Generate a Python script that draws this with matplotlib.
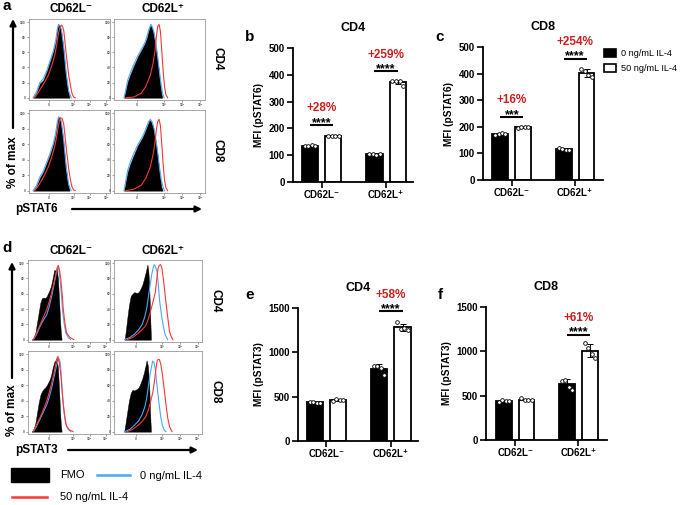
import numpy as np
import matplotlib
matplotlib.use('Agg')
import matplotlib.pyplot as plt
from matplotlib.patches import Patch, Rectangle

plt.rcParams['font.family'] = ['Liberation Sans', 'DejaVu Sans']
plt.rcParams['font.weight'] = 'bold'
plt.rcParams['axes.labelweight'] = 'bold'

# ---------------- data ----------------
groups = ['CD62L\u207b', 'CD62L\u207a']
legend_labels = ['0 ng/mL IL-4', '50 ng/mL IL-4']

# MFI dots (4 donors) per group
b_ctrl_pts = [[133, 136, 137, 135], [106, 103, 101, 104]]
b_il4_pts = [[170, 172, 173, 171], [378, 377, 377, 360]]
c_ctrl_pts = [[170, 173, 176, 172], [121, 116, 114, 113]]
c_il4_pts = [[196, 200, 200, 199], [418, 410, 393, 388]]
e_ctrl_pts = [[440, 435, 430, 432], [850, 845, 820, 740]]
e_il4_pts = [[455, 470, 462, 460], [1345, 1265, 1270, 1250]]
f_ctrl_pts = [[430, 450, 440, 445], [670, 680, 600, 560]]
f_il4_pts = [[470, 455, 450, 450], [1090, 1040, 975, 930]]

# significance marks: (group, line height, stars, percent label)
b_sig = [(0, 213, '****', '+28%'), (1, 413, '****', '+259%')]
c_sig = [(0, 237, '***', '+16%'), (1, 456, '****', '+254%')]
e_sig = [(1, 1463, '****', '+58%')]
f_sig = [(1, 1189, '****', '+61%')]

# histogram curves (x = fraction of log axis, y = % of max)
a4n_fmo = [(0.05, 0), (0.09, 6), (0.135, 19), (0.175, 23), (0.22, 35), (0.26, 48), (0.30, 61), (0.33, 74),
           (0.35, 90), (0.36, 97), (0.38, 94), (0.395, 90), (0.42, 70), (0.45, 35), (0.48, 10), (0.50, 0)]
a4n_blue = [(0.05, 0), (0.09, 7), (0.135, 20), (0.175, 25), (0.22, 36), (0.26, 49), (0.30, 62), (0.33, 76),
            (0.35, 91), (0.365, 97), (0.385, 95), (0.40, 90), (0.43, 66), (0.46, 32), (0.49, 9), (0.52, 0)]
a4n_red = [(0.07, 0), (0.12, 8), (0.16, 15), (0.20, 22), (0.24, 30), (0.28, 42), (0.32, 57), (0.345, 72),
           (0.36, 83), (0.38, 92), (0.40, 96), (0.415, 94), (0.43, 88), (0.46, 57), (0.49, 30), (0.51, 17),
           (0.53, 6), (0.55, 1), (0.57, 0)]

a4p_fmo = [(0.11, 0), (0.13, 10), (0.15, 21), (0.18, 31), (0.21, 40), (0.26, 54), (0.31, 65), (0.34, 72),
           (0.36, 79), (0.38, 88), (0.40, 96), (0.415, 93), (0.43, 88), (0.45, 75), (0.47, 58), (0.49, 38),
           (0.505, 20), (0.52, 6), (0.53, 0)]
a4p_blue = [(0.11, 0), (0.13, 11), (0.15, 23), (0.18, 33), (0.21, 42), (0.26, 55), (0.31, 66), (0.34, 73),
            (0.36, 80), (0.38, 89), (0.405, 97), (0.42, 94), (0.44, 86), (0.46, 72), (0.48, 54), (0.50, 34),
            (0.52, 16), (0.535, 5), (0.55, 0)]
a4p_red = [(0.13, 0), (0.22, 1), (0.30, 6), (0.35, 15), (0.40, 30), (0.43, 46), (0.45, 61), (0.465, 80),
           (0.48, 94), (0.495, 97), (0.51, 88), (0.525, 62), (0.54, 35), (0.555, 15), (0.57, 4), (0.59, 0)]

a8n_fmo = [(0.05, 0), (0.09, 5), (0.135, 17), (0.175, 24), (0.22, 36), (0.26, 47), (0.30, 60), (0.33, 73),
           (0.35, 88), (0.36, 96), (0.375, 93), (0.39, 89), (0.42, 68), (0.45, 34), (0.48, 9), (0.50, 0)]
a8n_blue = [(0.05, 0), (0.09, 6), (0.135, 18), (0.175, 25), (0.22, 37), (0.26, 48), (0.30, 61), (0.33, 75),
            (0.35, 89), (0.365, 95), (0.385, 94), (0.40, 89), (0.43, 64), (0.46, 30), (0.49, 8), (0.52, 0)]
a8n_red = [(0.07, 0), (0.12, 7), (0.16, 14), (0.20, 22), (0.24, 31), (0.28, 43), (0.32, 58), (0.345, 72),
           (0.36, 82), (0.375, 90), (0.39, 94), (0.41, 93), (0.43, 85), (0.46, 55), (0.49, 28), (0.51, 15),
           (0.53, 5), (0.55, 1), (0.57, 0)]

a8p_fmo = [(0.11, 0), (0.13, 12), (0.15, 24), (0.18, 35), (0.21, 44), (0.26, 58), (0.31, 68), (0.34, 76),
           (0.36, 82), (0.38, 88), (0.39, 91), (0.41, 89), (0.43, 82), (0.45, 70), (0.47, 54), (0.49, 34),
           (0.505, 18), (0.52, 5), (0.535, 0)]
a8p_blue = [(0.11, 0), (0.13, 13), (0.15, 26), (0.18, 37), (0.21, 46), (0.26, 59), (0.31, 69), (0.34, 77),
            (0.36, 83), (0.38, 89), (0.40, 92), (0.42, 88), (0.44, 80), (0.46, 66), (0.48, 50), (0.50, 30),
            (0.52, 14), (0.54, 4), (0.555, 0)]
a8p_red = [(0.13, 0), (0.22, 2), (0.30, 7), (0.35, 16), (0.40, 31), (0.43, 47), (0.45, 62), (0.465, 78),
           (0.48, 89), (0.495, 92), (0.51, 84), (0.525, 60), (0.54, 34), (0.555, 14), (0.57, 4), (0.59, 0)]

d4n_fmo = [(0.045, 0), (0.07, 3), (0.09, 9), (0.11, 22), (0.13, 35), (0.15, 48), (0.17, 54), (0.19, 55),
           (0.21, 54), (0.23, 57), (0.26, 64), (0.28, 70), (0.30, 80), (0.32, 91), (0.34, 90), (0.35, 93),
           (0.365, 80), (0.38, 50), (0.39, 27), (0.40, 10), (0.41, 0)]
d4n_blue = [(0.065, 0), (0.10, 6), (0.15, 18), (0.19, 26), (0.23, 33), (0.26, 44), (0.29, 57), (0.31, 68),
            (0.33, 79), (0.35, 90), (0.36, 95), (0.375, 92), (0.39, 79), (0.41, 55), (0.42, 40), (0.44, 22),
            (0.46, 9), (0.49, 3), (0.52, 0)]
d4n_red = [(0.065, 0), (0.10, 8), (0.15, 20), (0.19, 30), (0.23, 40), (0.26, 50), (0.29, 62), (0.32, 76),
           (0.34, 86), (0.36, 95), (0.37, 97), (0.385, 90), (0.40, 79), (0.42, 55), (0.43, 40), (0.45, 22),
           (0.47, 9), (0.51, 3), (0.56, 0)]

d4p_fmo = [(0.12, 0), (0.135, 12), (0.15, 27), (0.17, 45), (0.19, 57), (0.21, 60), (0.23, 62), (0.26, 61),
           (0.28, 62), (0.30, 66), (0.32, 71), (0.34, 79), (0.36, 88), (0.38, 98), (0.39, 90), (0.40, 71),
           (0.41, 35), (0.42, 0)]
d4p_blue = [(0.12, 0), (0.18, 3), (0.23, 7), (0.28, 13), (0.32, 20), (0.35, 30), (0.37, 40), (0.39, 55),
            (0.41, 71), (0.43, 86), (0.45, 96), (0.46, 98), (0.475, 94), (0.49, 88), (0.505, 70), (0.52, 49),
            (0.54, 32), (0.56, 18), (0.58, 7), (0.61, 0)]
d4p_red = [(0.15, 0), (0.21, 3), (0.26, 7), (0.31, 12), (0.36, 18), (0.39, 27), (0.41, 35), (0.44, 48),
           (0.47, 62), (0.485, 78), (0.50, 93), (0.515, 97), (0.53, 98), (0.545, 93), (0.56, 80), (0.575, 65),
           (0.59, 49), (0.61, 30), (0.63, 11), (0.65, 4), (0.67, 0)]

d8n_fmo = [(0.045, 0), (0.07, 4), (0.09, 11), (0.11, 24), (0.13, 37), (0.15, 47), (0.17, 52), (0.19, 55),
           (0.21, 57), (0.23, 60), (0.26, 66), (0.28, 72), (0.30, 82), (0.32, 90), (0.335, 92), (0.35, 95),
           (0.365, 82), (0.38, 52), (0.39, 28), (0.40, 10), (0.41, 0)]
d8n_blue = [(0.065, 0), (0.10, 6), (0.15, 17), (0.19, 26), (0.23, 35), (0.26, 45), (0.29, 57), (0.31, 67),
            (0.33, 77), (0.35, 86), (0.37, 92), (0.38, 94), (0.395, 88), (0.41, 65), (0.42, 48), (0.44, 25),
            (0.46, 10), (0.49, 3), (0.52, 0)]
d8n_red = [(0.065, 0), (0.10, 8), (0.15, 19), (0.19, 29), (0.23, 40), (0.26, 51), (0.29, 63), (0.32, 77),
           (0.34, 88), (0.355, 95), (0.365, 97), (0.38, 90), (0.40, 74), (0.42, 48), (0.43, 35), (0.45, 18),
           (0.47, 7), (0.51, 2), (0.55, 0)]

d8p_fmo = [(0.115, 0), (0.13, 10), (0.15, 25), (0.17, 40), (0.19, 50), (0.21, 54), (0.23, 53), (0.26, 55),
           (0.28, 57), (0.30, 62), (0.32, 68), (0.34, 76), (0.36, 86), (0.37, 92), (0.385, 85), (0.40, 60),
           (0.41, 25), (0.42, 0)]
d8p_blue = [(0.12, 0), (0.18, 3), (0.23, 8), (0.28, 14), (0.32, 22), (0.35, 32), (0.37, 42), (0.39, 58),
            (0.41, 74), (0.43, 86), (0.44, 91), (0.455, 89), (0.47, 80), (0.49, 58), (0.51, 38), (0.53, 20),
            (0.55, 8), (0.57, 2), (0.59, 0)]
d8p_red = [(0.15, 0), (0.21, 3), (0.26, 7), (0.31, 12), (0.36, 19), (0.39, 28), (0.41, 36), (0.44, 50),
           (0.46, 65), (0.475, 80), (0.49, 91), (0.50, 93), (0.515, 93), (0.53, 88), (0.55, 74), (0.57, 55),
           (0.59, 36), (0.61, 18), (0.63, 7), (0.65, 2), (0.66, 0)]

hist_xticks = [0.25, 0.55, 0.75, 0.95]
hist_xticklabels = ['0', '10\u00b3', '10\u2074', '10\u2075']
hist_yticks = [0, 20, 40, 60, 80, 100]

# ---------------- figure ----------------
W, H = 685, 505
fig = plt.figure(figsize=(W / 100, H / 100), dpi=100)

RED_TXT = '#cc1f1f'
BLUE = '#4aa8f5'
RED = '#ff3535'


def px_axes(l, t, r, b):
    return fig.add_axes([l / W, 1 - b / H, (r - l) / W, (b - t) / H])


# overlay for figure-level text and arrows, in pixel coords
ov = fig.add_axes([0, 0, 1, 1])
ov.set_xlim(0, W)
ov.set_ylim(H, 0)
ov.axis('off')


def histo(box, fmo, blue, red):
    ax = px_axes(*box)
    fx, fy = zip(*fmo)
    ax.fill_between(fx, fy, 0, color='black', lw=0.3, zorder=2)
    bx, by = zip(*blue)
    ax.plot(bx, by, color=BLUE, lw=0.8, zorder=3)
    rx, ry = zip(*red)
    ax.plot(rx, ry, color=RED, lw=0.8, zorder=4)
    ax.set_xlim(0, 1)
    ax.set_ylim(-3, 104)
    ax.set_xticks(hist_xticks)
    ax.set_xticklabels(hist_xticklabels)
    ax.set_yticks(hist_yticks)
    ax.tick_params(length=1.5, width=0.4, labelsize=2.3, pad=0.8, colors='#555555')
    for s in ax.spines.values():
        s.set_color('#999999')
        s.set_linewidth(0.6)
    return ax


histo((29, 19, 110, 100), a4n_fmo, a4n_blue, a4n_red)
histo((114, 19, 205, 100), a4p_fmo, a4p_blue, a4p_red)
histo((29, 110, 110, 193), a8n_fmo, a8n_blue, a8n_red)
histo((114, 110, 205, 193), a8p_fmo, a8p_blue, a8p_red)

histo((28, 260, 110, 342), d4n_fmo, d4n_blue, d4n_red)
histo((114, 260, 202, 342), d4p_fmo, d4p_blue, d4p_red)
histo((28, 351, 110, 434), d8n_fmo, d8n_blue, d8n_red)
histo((114, 351, 202, 434), d8p_fmo, d8p_blue, d8p_red)

# headers, side labels, arrows
for hy in [9, 251]:
    ov.text(71, hy, groups[0], ha='center', va='center', fontsize=8.5)
    ov.text(163, hy, groups[1], ha='center', va='center', fontsize=8.5)
ov.text(218, 59, 'CD4', rotation=-90, ha='center', va='center', fontsize=8.5)
ov.text(218, 151, 'CD8', rotation=-90, ha='center', va='center', fontsize=8.5)
ov.text(216, 301, 'CD4', rotation=-90, ha='center', va='center', fontsize=8.5)
ov.text(216, 392, 'CD8', rotation=-90, ha='center', va='center', fontsize=8.5)

arrow = dict(arrowstyle='-|>', lw=1.6, color='black', mutation_scale=9, shrinkA=0, shrinkB=0)
ov.annotate('', xy=(13, 19), xytext=(13, 128), arrowprops=arrow)
ov.text(13, 162, '% of max', rotation=90, ha='center', va='center', fontsize=8.5)
ov.text(15, 209, 'pSTAT6', ha='left', va='center', fontsize=8.5)
ov.annotate('', xy=(202, 209), xytext=(72, 209), arrowprops=arrow)

ov.annotate('', xy=(12, 262), xytext=(12, 378), arrowprops=arrow)
ov.text(12, 410, '% of max', rotation=90, ha='center', va='center', fontsize=8.5)
ov.text(15, 450, 'pSTAT3', ha='left', va='center', fontsize=8.5)
ov.annotate('', xy=(198, 450), xytext=(68, 450), arrowprops=arrow)

# histogram legend
ov.add_patch(Rectangle((11, 468), 38, 14, color='black'))
ov.text(60, 475, 'FMO', ha='left', va='center', fontsize=8, fontweight='normal')
ov.plot([97, 130], [475, 475], color=BLUE, lw=1.8)
ov.text(140, 476, legend_labels[0], ha='left', va='center', fontsize=8, fontweight='normal')
ov.plot([12, 47], [497, 497], color=RED, lw=1.8)
ov.text(60, 497, legend_labels[1], ha='left', va='center', fontsize=8, fontweight='normal')

# panel letters
for x, y, s in [(7, 6, 'a'), (250, 37, 'b'), (440, 37, 'c'), (7, 248, 'd'), (250, 295, 'e'), (440, 295, 'f')]:
    ov.text(x, y, s, ha='center', va='center', fontsize=11)

# ---------------- bar panels ----------------
dot_dx = [-0.08, -0.03, 0.03, 0.08]
off, bw = 0.18, 0.25


def bars(box, ctrl_pts, il4_pts, ymax, step, title, ylabel, sig, xr):
    ax = px_axes(*box)
    xs = np.arange(len(groups))
    for pts, dx, fc in [(ctrl_pts, -off, 'black'), (il4_pts, off, 'white')]:
        arr = np.array(pts, dtype=float)
        m = arr.mean(axis=1)
        sd = arr.std(axis=1, ddof=1)
        ax.bar(xs + dx, m, width=bw, color=fc, edgecolor='black', linewidth=1.3, zorder=2)
        ax.errorbar(xs + dx, m, yerr=sd, fmt='none', ecolor='black', elinewidth=0.7, capsize=2,
                    capthick=0.7, zorder=3)
        for i in range(len(groups)):
            ax.scatter(xs[i] + dx + np.array(dot_dx), arr[i], s=7, facecolor='white', edgecolor='black',
                       linewidth=0.6, zorder=4, clip_on=False)
    for g, yl, stars, pct in sig:
        ax.plot([g - off, g + off], [yl, yl], color='black', lw=1.5, clip_on=False, solid_capstyle='butt')
        ax.annotate(stars, xy=(g, yl), xytext=(0, -0.6), textcoords='offset points', ha='center',
                    va='baseline', fontsize=9, annotation_clip=False)
        ax.annotate(pct, xy=(g, yl), xytext=(0, 12), textcoords='offset points', ha='center',
                    va='center', fontsize=8.5, color=RED_TXT, annotation_clip=False)
    ax.set_xlim(*xr)
    ax.set_ylim(0, ymax)
    ax.set_yticks(np.arange(0, ymax + 1, step))
    ax.set_xticks(xs)
    ax.set_xticklabels(groups)
    ax.tick_params(labelsize=7, width=1.2, length=4, pad=2)
    for s in ['top', 'right']:
        ax.spines[s].set_visible(False)
    for s in ['left', 'bottom']:
        ax.spines[s].set_linewidth(1.3)
    ax.set_title(title, fontsize=9, fontweight='bold', pad=12)
    ax.set_ylabel(ylabel, fontsize=7.3, labelpad=3)
    return ax


bars((293, 48, 413, 182), b_ctrl_pts, b_il4_pts, 500, 100, 'CD4', 'MFI (pSTAT6)', b_sig, (-0.45, 1.42))
ax_c = bars((483, 47, 603, 180), c_ctrl_pts, c_il4_pts, 500, 100, 'CD8', 'MFI (pSTAT6)', c_sig, (-0.455, 1.44))
bars((298, 308, 418, 441), e_ctrl_pts, e_il4_pts, 1500, 500, 'CD4', 'MFI (pSTAT3)', e_sig, (-0.44, 1.42))
bars((486, 307, 607, 440), f_ctrl_pts, f_il4_pts, 1500, 500, 'CD8', 'MFI (pSTAT3)', f_sig, (-0.46, 1.45))

handles = [Patch(facecolor='black', edgecolor='black', linewidth=1.2),
           Patch(facecolor='white', edgecolor='black', linewidth=1.2)]
ax_c.legend(handles, legend_labels, loc='upper left', bbox_to_anchor=(1.005, 0.985), frameon=False,
            borderpad=0, borderaxespad=0, handlelength=1.35, handleheight=0.95, handletextpad=0.5,
            labelspacing=0.65, prop={'size': 6.6, 'weight': 'normal'})

fig.savefig('out.png', dpi=100)
